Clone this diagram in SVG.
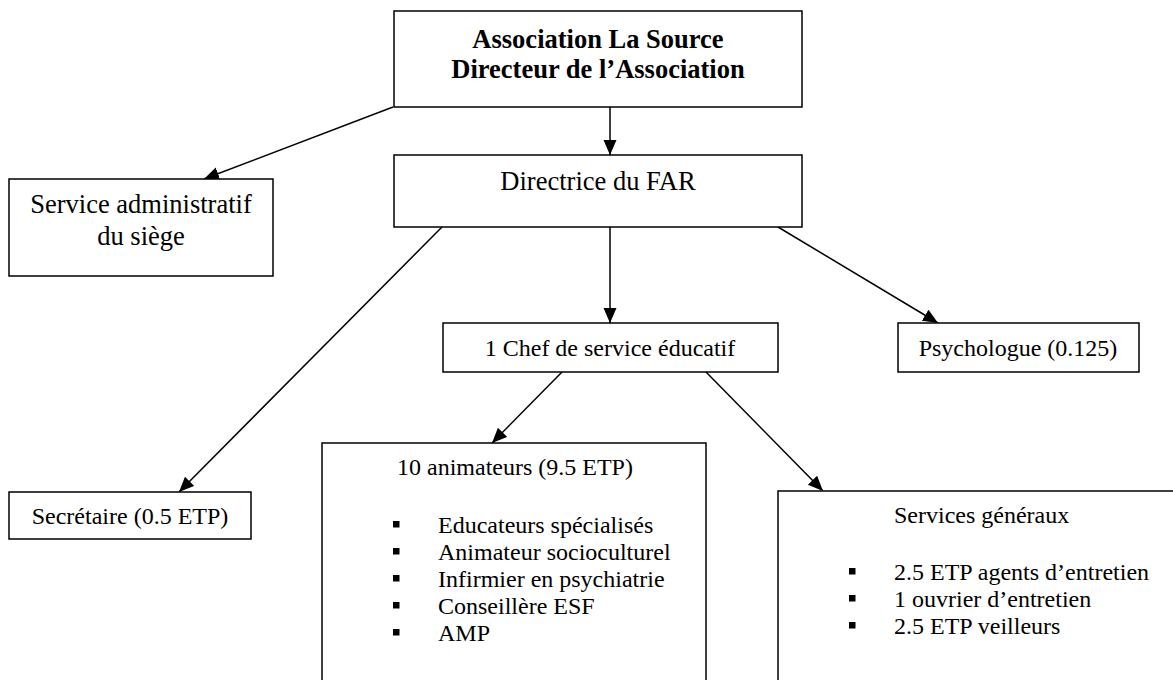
<svg xmlns="http://www.w3.org/2000/svg" width="1173" height="680" viewBox="0 0 1173 680">
<style>
.box{fill:#fff;stroke:#000;stroke-width:1.5}
.t{font-family:"Liberation Serif","Times New Roman",serif;fill:#000}
.big{font-size:26.5px}
.sm{font-size:24px}
.b{font-weight:bold}
.c{text-anchor:middle}
.ln{stroke:#000;stroke-width:1.5;fill:none;marker-end:url(#ah)}
.bul{fill:#000}
</style>
<defs>
<marker id="ah" markerUnits="userSpaceOnUse" markerWidth="16" markerHeight="14" refX="15" refY="6.5" orient="auto">
<path d="M0,0 L15,6.5 L0,13 z" fill="#000"/>
</marker>
</defs>
<rect width="1173" height="680" fill="#fff"/>
<g id="connectors">
<line class="ln" x1="610" y1="107" x2="610" y2="155"/>
<line class="ln" x1="393" y1="107" x2="204" y2="179"/>
<line class="ln" x1="442" y1="227" x2="179" y2="492"/>
<line class="ln" x1="610" y1="227" x2="610" y2="323"/>
<line class="ln" x1="778" y1="227" x2="938" y2="323"/>
<line class="ln" x1="562" y1="372" x2="492" y2="443"/>
<line class="ln" x1="706" y1="372" x2="823" y2="491"/>
</g>
<g id="association">
<rect class="box" x="394" y="11" width="408" height="96"/>
<text class="t big b c" x="598" y="48">Association La Source</text>
<text class="t big b c" x="598" y="78">Directeur de l’Association</text>
</g>
<g id="directrice">
<rect class="box" x="394" y="155" width="408" height="72"/>
<text class="t big c" x="598" y="190">Directrice du FAR</text>
</g>
<g id="service-admin">
<rect class="box" x="9" y="179" width="264" height="97"/>
<text class="t big c" x="141" y="213">Service administratif</text>
<text class="t big c" x="141" y="245">du siège</text>
</g>
<g id="secretaire">
<rect class="box" x="9" y="492" width="242" height="47"/>
<text class="t sm c" x="130" y="524">Secrétaire (0.5 ETP)</text>
</g>
<g id="chef">
<rect class="box" x="443" y="323" width="335" height="49"/>
<text class="t sm c" x="610" y="356">1 Chef de service éducatif</text>
</g>
<g id="psychologue">
<rect class="box" x="898" y="323" width="241" height="49"/>
<text class="t sm c" x="1018" y="356">Psychologue (0.125)</text>
</g>
<g id="animateurs">
<rect class="box" x="322" y="443" width="384" height="260"/>
<text class="t sm" x="397" y="475">10 animateurs (9.5 ETP)</text>
<rect class="bul" x="393" y="521" width="6.5" height="6.5"/>
<rect class="bul" x="393" y="548" width="6.5" height="6.5"/>
<rect class="bul" x="393" y="575" width="6.5" height="6.5"/>
<rect class="bul" x="393" y="602" width="6.5" height="6.5"/>
<rect class="bul" x="393" y="629" width="6.5" height="6.5"/>
<text class="t sm" x="438" y="533">Educateurs spécialisés</text>
<text class="t sm" x="438" y="560">Animateur socioculturel</text>
<text class="t sm" x="438" y="587">Infirmier en psychiatrie</text>
<text class="t sm" x="438" y="614">Conseillère ESF</text>
<text class="t sm" x="438" y="641">AMP</text>
</g>
<g id="services-generaux">
<rect class="box" x="778" y="491" width="420" height="212"/>
<text class="t sm" x="894" y="523">Services généraux</text>
<rect class="bul" x="849" y="568" width="6.5" height="6.5"/>
<rect class="bul" x="849" y="595" width="6.5" height="6.5"/>
<rect class="bul" x="849" y="622" width="6.5" height="6.5"/>
<text class="t sm" x="894" y="580">2.5 ETP agents d’entretien</text>
<text class="t sm" x="894" y="607">1 ouvrier d’entretien</text>
<text class="t sm" x="894" y="634">2.5 ETP veilleurs</text>
</g>
</svg>
